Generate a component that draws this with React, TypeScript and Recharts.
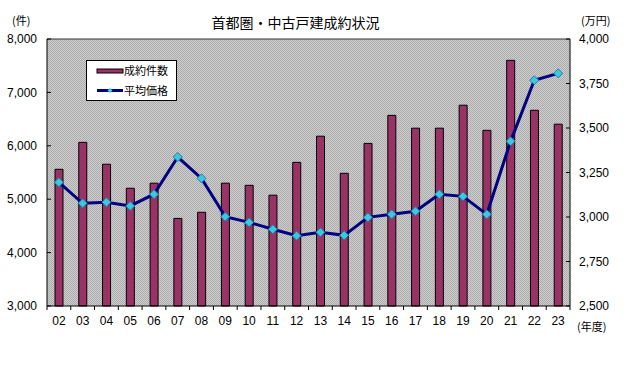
import React from 'react';
import { ComposedChart, Bar, Line, XAxis, YAxis, CartesianGrid, Legend, ReferenceLine } from 'recharts';

const years = ['02', '03', '04', '05', '06', '07', '08', '09', '10', '11', '12', '13', '14', '15', '16', '17', '18', '19', '20', '21', '22', '23'];
const contracts = [5560, 6065, 5655, 5205, 5300, 4640, 4755, 5300, 5260, 5075, 5690, 6180, 5485, 6045, 6570, 6330, 6330, 6760, 6290, 7600, 6665, 6405];
const avgPrice = [3195, 3077, 3083, 3062, 3128, 3337, 3217, 3002, 2970, 2931, 2895, 2914, 2897, 2998, 3015, 3032, 3128, 3116, 3015, 3425, 3768, 3807];
const leftTicks = [3000, 4000, 5000, 6000, 7000, 8000];
const rightTicks = [2500, 2750, 3000, 3250, 3500, 3750, 4000];

const data = years.map((y, i) => ({ year: y, contracts: contracts[i], price: avgPrice[i] }));

const NUM_FONT = "'Liberation Sans Narrow', 'Arial Narrow', 'Liberation Sans', sans-serif";
const JP_FONT = "'Noto Sans CJK JP', sans-serif";
const BAR_COLOR = '#993366';
const LINE_COLOR = '#000080';
const DOT_FILL = '#3CC8E0';
const DOT_STROKE = '#1E7FA8';

const fmt = (v: number) => v.toLocaleString('en-US');

const Diamond = (props: any) => {
  const { cx, cy } = props;
  if (cx == null || cy == null) return null;
  const r = 4.5;
  return (
    <path
      d={`M${cx},${cy - r}L${cx + r},${cy}L${cx},${cy + r}L${cx - r},${cy}Z`}
      fill={DOT_FILL}
      stroke={DOT_STROKE}
      strokeWidth={1}
    />
  );
};

const XTick = (props: any) => {
  const { x, y, payload, index, visibleTicksCount } = props;
  const half = payload && typeof payload.offset === 'number' && payload.offset > 0 ? payload.offset : 11.9;
  const axisY = y - 10;
  return (
    <g>
      <line x1={x - half} x2={x - half} y1={axisY} y2={axisY + 4} stroke="#000" />
      {index === visibleTicksCount - 1 && (
        <line x1={x + half} x2={x + half} y1={axisY} y2={axisY + 4} stroke="#000" />
      )}
      <text x={x} y={y} dy="0.71em" textAnchor="middle" fontSize={12} fontFamily={NUM_FONT} fill="#000">
        {payload.value}
      </text>
    </g>
  );
};

const LegendBox = (props: any) => {
  const raw = props.payload || [];
  const payload = [...raw.filter((e: any) => e.type !== 'line'), ...raw.filter((e: any) => e.type === 'line')];
  return (
    <div
      style={{
        width: 91,
        height: 41,
        boxSizing: 'border-box',
        border: '1px solid #000',
        background: '#fff',
      }}
    >
      <svg width={89} height={39} style={{ display: 'block' }}>
        {payload.map((entry: any, i: number) => {
          const cy = i === 0 ? 10 : 29.5;
          const isLine = entry.type === 'line';
          return (
            <g key={i}>
              {isLine ? (
                <g>
                  <line x1={10} x2={36} y1={cy} y2={cy} stroke={LINE_COLOR} strokeWidth={3} />
                  <path d={`M23,${cy - 2.5}L25.5,${cy}L23,${cy + 2.5}L20.5,${cy}Z`} fill={DOT_FILL} />
                </g>
              ) : (
                <rect x={10} y={cy - 2} width={26} height={4} fill={BAR_COLOR} stroke="#000" strokeWidth={1} />
              )}
              <text x={37} y={cy + 4} fontSize={11} fontFamily={JP_FONT} fill="#000">
                {entry.value}
              </text>
            </g>
          );
        })}
      </svg>
    </div>
  );
};

export default function App() {
  return (
    <div style={{ position: 'absolute', left: 0, top: 0, width: 630, height: 371, background: '#fff' }}>
      <ComposedChart
        width={630}
        height={371}
        data={data}
        margin={{ top: 39, right: 0, bottom: 0, left: 0 }}
        barCategoryGap={0}
      >
        <defs>
          <pattern id="bgPattern" x={0} y={0} width={2} height={2} patternUnits="userSpaceOnUse">
            <rect x={0} y={0} width={2} height={2} fill="#cfcfcf" />
            <rect x={0} y={0} width={1} height={1} fill="#ababab" />
            <rect x={1} y={1} width={1} height={1} fill="#ababab" />
          </pattern>
        </defs>
        <CartesianGrid horizontal={false} vertical={false} fill="url(#bgPattern)" fillOpacity={1} yAxisId="left" />
        <XAxis
          dataKey="year"
          height={65}
          interval={0}
          tickLine={false}
          tickSize={0}
          tickMargin={10}
          axisLine={{ stroke: '#000' }}
          tick={<XTick />}
        />
        <YAxis
          yAxisId="left"
          orientation="left"
          domain={[3000, 8000]}
          ticks={leftTicks}
          interval={0}
          tickFormatter={fmt}
          width={47}
          tickSize={-4}
          tickMargin={14}
          axisLine={{ stroke: '#000' }}
          tickLine={{ stroke: '#000' }}
          tick={{ fontSize: 12, fill: '#000', fontFamily: NUM_FONT }}
        />
        <YAxis
          yAxisId="right"
          orientation="right"
          domain={[2500, 4000]}
          ticks={rightTicks}
          interval={0}
          tickFormatter={fmt}
          width={60}
          tickSize={-4}
          tickMargin={13}
          axisLine={{ stroke: '#000' }}
          tickLine={{ stroke: '#000' }}
          tick={{ fontSize: 12, fill: '#000', fontFamily: NUM_FONT, textAnchor: 'start' }}
        />
        <ReferenceLine yAxisId="left" y={8000} stroke="#333" strokeWidth={1} />
        <Bar
          yAxisId="left"
          dataKey="contracts"
          name="成約件数"
          fill={BAR_COLOR}
          stroke="#000"
          strokeWidth={1}
          barSize={8}
          isAnimationActive={false}
        />
        <Line
          yAxisId="right"
          dataKey="price"
          name="平均価格"
          type="linear"
          stroke={LINE_COLOR}
          strokeWidth={3}
          dot={<Diamond />}
          activeDot={false}
          isAnimationActive={false}
        />
        <Legend
          layout="horizontal"
          verticalAlign="middle"
          align="center"
          content={<LegendBox />}
          wrapperStyle={{ left: 86, top: 60, width: 91, height: 41 }}
        />
      </ComposedChart>
      <svg
        width={630}
        height={371}
        style={{ position: 'absolute', left: 0, top: 0, pointerEvents: 'none' }}
      >
        <text x={295.5} y={28} textAnchor="middle" fontSize={14} fontFamily={JP_FONT} fill="#000">
          首都圏・中古戸建成約状況
        </text>
        <text x={12} y={25} fontSize={11} fontFamily={JP_FONT} fill="#000">(件)</text>
        <text x={581} y={25} fontSize={11} fontFamily={JP_FONT} fill="#000">(万円)</text>
        <text x={577} y={331} fontSize={11} fontFamily={JP_FONT} fill="#000">(年度)</text>
      </svg>
    </div>
  );
}
